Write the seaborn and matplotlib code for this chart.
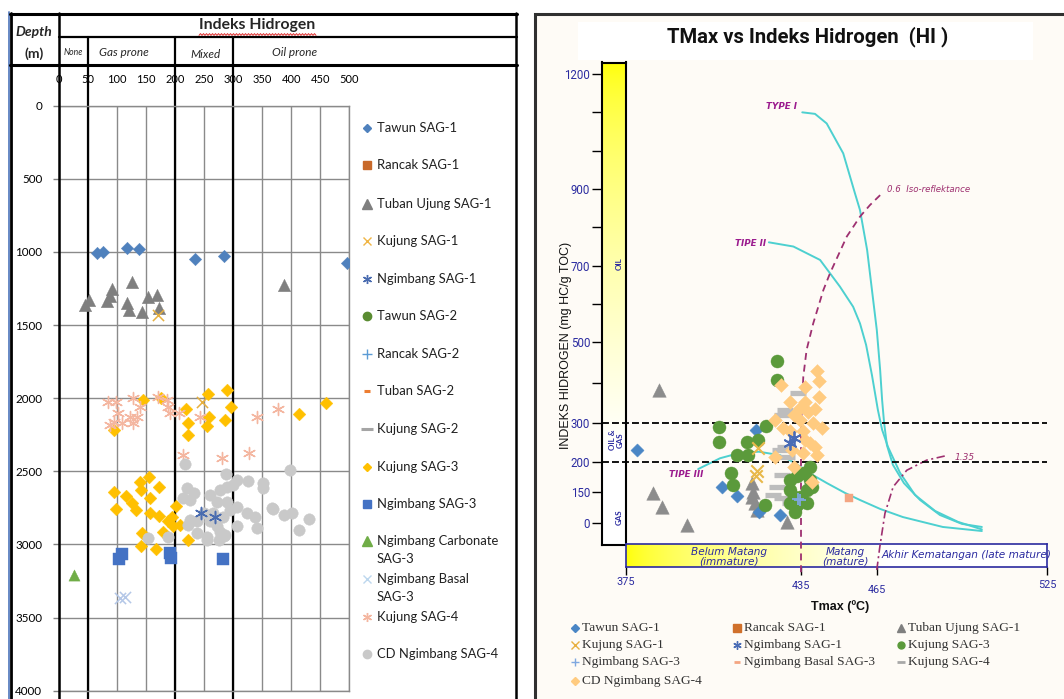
import numpy as np
import matplotlib
matplotlib.use("Agg")
import matplotlib.pyplot as plt
import seaborn as sns
from matplotlib.lines import Line2D
from matplotlib.patches import Rectangle
from matplotlib.markers import MarkerStyle

# ====================== DATA : left panel (Indeks Hidrogen vs Depth) ======================
HI_TICKS_L = [0, 50, 100, 150, 200, 250, 300, 350, 400, 450, 500]
DEPTH_TICKS = [0, 500, 1000, 1500, 2000, 2500, 3000, 3500, 4000]
ZONE_BOUNDS = [50, 200, 300]          # None | Gas prone | Mixed | Oil prone

L_TAWUN1_HI = [66, 75, 117, 138, 234, 284, 496]
L_TAWUN1_D = [1009, 1002, 970, 981, 1048, 1025, 1077]
L_TUBANUJ1_HI = [44, 52, 83, 87, 91, 117, 121, 126, 143, 153, 168, 172, 387]
L_TUBANUJ1_D = [1362, 1329, 1336, 1298, 1253, 1351, 1396, 1203, 1408, 1305, 1294, 1385, 1226]
L_KUJUNG1_HI = [171, 247]
L_KUJUNG1_D = [1431, 2023]
L_NGIMBANG1_HI = [245, 269]
L_NGIMBANG1_D = [2786, 2810]
L_KUJUNG3_HI = [145, 175, 218, 222, 223, 256, 259, 255, 286, 290, 296, 413, 460, 95,
                95, 99, 116, 125, 132, 140, 141, 155, 157, 172, 157, 172, 179, 143, 141, 167,
                188, 194, 197, 202, 209, 223]
L_KUJUNG3_D = [2012, 2000, 2073, 2167, 2251, 1973, 2126, 2189, 2151, 1945, 2057, 2109, 2034, 2217,
               2638, 2759, 2668, 2718, 2763, 2570, 2631, 2536, 2684, 2608, 2786, 2805, 2912, 2923,
               3010, 3030, 2837, 2809, 2877, 2736, 2866, 2969]
L_NGIMBANG3_HI = [104, 109, 191, 193, 283]
L_NGIMBANG3_D = [3100, 3064, 3060, 3094, 3100]
L_NGCARB3_HI = [25]
L_NGCARB3_D = [3212]
L_NGBASAL3_HI = [105, 113]
L_NGBASAL3_D = [3367, 3360]
L_KUJUNG4_HI = [85, 99, 128, 140, 171, 186, 188, 191, 206, 94, 108, 88, 128, 134, 243, 341, 378,
                214, 280, 328, 102, 122]
L_KUJUNG4_D = [2023, 2023, 2000, 2057, 1989, 2012, 2057, 2103, 2103, 2160, 2171, 2183, 2171, 2126,
               2126, 2126, 2075, 2388, 2410, 2376, 2103, 2126]
L_CDNG4_HI = [217, 287, 306, 326, 352, 351, 398, 220, 232, 214, 226, 260, 278, 289, 300, 272, 289,
              295, 306, 324, 338, 367, 387, 401, 430, 413, 341, 226, 223, 237, 255, 260, 272, 278,
              286, 249, 266, 283, 154, 188, 306, 275, 237, 255, 285, 368]
L_CDNG4_D = [2451, 2520, 2558, 2565, 2581, 2615, 2490, 2615, 2650, 2684, 2695, 2661, 2627, 2604,
             2593, 2707, 2707, 2763, 2741, 2786, 2809, 2752, 2798, 2786, 2825, 2900, 2889, 2832,
             2866, 2923, 2946, 2843, 2877, 2912, 2934, 2786, 2786, 2809, 2957, 2946, 2877, 2969,
             2843, 2969, 2940, 2759]

# ====================== DATA : right panel (Tmax vs HI) ======================
TMAX_TICKS = [375, 435, 465, 525]
HI_TICKS_R = [0, 150, 200, 300, 500, 700, 900, 1200]
HI_MINOR_R = [400, 600, 800, 1000, 1100]

R_TAWUN1_T = [379, 408, 413, 419.6, 420.6, 427.8]
R_TAWUN1_HI = [230, 159, 133, 283, 54, 38]
R_RANCAK1_T = [454]
R_RANCAK1_HI = [120]
R_TUBANUJ1_T = [386.4, 384.5, 387.5, 396, 418.1, 418.7, 418.1, 419.3, 419.8, 430.1]
R_TUBANUJ1_HI = [382, 145, 79, -10, 165, 151, 128, 96, 63, 5]
R_KUJUNG1_T = [419.8, 419.6, 420.4]
R_KUJUNG1_HI = [184, 176, 235]
R_NGIMBANG1_T = [432.6, 431.3]
R_NGIMBANG1_HI = [262, 249]
R_KUJUNG3_T = [426.9, 426.9, 407, 407, 416.6, 420.4, 423, 413, 417, 411, 411.8, 422.7, 431.3,
               433.6, 435.9, 438.6, 438.6, 431.3, 432.5, 434.8, 437.2, 431.3, 433.6, 437.2, 439.2, 433]
R_KUJUNG3_HI = [453, 406, 290, 252, 252, 257, 292, 217, 217, 181, 162, 87, 170, 176, 181, 192, 170,
                154, 128, 128, 154, 96, 87, 96, 159, 54]
R_NGIMBANG3_T = [434, 434.8]
R_NGIMBANG3_HI = [115, 110]
R_KUJUNG4_T = [434, 429.4, 428.4, 429.4, 427.8, 430.1, 428.4, 426.7, 425.5, 428.4, 432.4, 431.3, 433.5]
R_KUJUNG4_HI = [375, 333, 320, 239, 230, 213, 178, 159, 136, 120, 104, 96, 136]
R_CDNG4_T = [441.2, 442.2, 428, 436.6, 441.9, 436.6, 431.3, 440.4, 437.8, 432.6, 434.8, 426.1, 429,
             439.9, 443.1, 431.9, 436.6, 438.6, 440.4, 441.2, 435.9, 432.6, 439.2, 431.3, 435.9,
             434.8, 426.1]
R_CDNG4_HI = [427, 404, 394, 390, 364, 353, 351, 334, 328, 320, 308, 308, 288, 300, 288, 231, 257,
              248, 239, 217, 222, 192, 167, 280, 280, 337, 213]

# kerogen type curves and iso-reflectance lines (Tmax, HI)
TYPE1_T = [435.5, 440.5, 445.1, 451.6, 456.2, 458.2, 461, 462.9, 464.8, 466, 466.7, 467.4, 468.4,
           470.5, 474.4, 480.1, 487.1, 494.9, 501.9]
TYPE1_HI = [1100, 1096, 1071, 993, 889, 845, 741, 636, 531, 431, 357, 301, 243, 195, 165, 112, 38,
            -6, -21]
TYPE2_T = [424, 432.4, 442.5, 450.3, 455.5, 458.2, 460.6, 462.9, 465.2, 466.7, 468.8, 473, 478.3,
           485.4, 493.5, 501.9]
TYPE2_HI = [761, 750, 715, 645, 592, 548, 492, 418, 333, 283, 238, 182, 137, 58, 4, -33]
TYPE3_T = [399.8, 407.3, 414.1, 420.6, 427.8, 432.9, 438.5, 445.2, 452.3, 458.2, 466, 474, 488.1, 501.9]
TYPE3_HI = [188, 209, 223, 226, 217, 198, 181, 165, 147, 112, 68, 28, -21, -41]
RO06_T = [466, 462.1, 458.2, 453, 446.4, 443.8, 439.8, 437.2, 435.9, 435.3, 435, 435]
RO06_HI = [884, 858, 828, 776, 680, 636, 548, 480, 414, 333, 283, -250]
RO135_T = [464.8, 465.9, 467.7, 470.6, 475.4, 482.4, 488.9]
RO135_HI = [-233, -118, 46, 159, 186, 204, 215]

# ====================== STYLE ======================
sns.set_theme(style="white")
plt.rcParams["font.family"] = ["Lato", "DejaVu Sans"]
plt.rcParams["lines.scale_dashes"] = False

W, H = 1064, 699
fig = plt.figure(figsize=(W / 100, H / 100), dpi=100)
fig.patch.set_facecolor("white")


def rect(x0, y0, x1, y1):
    return [x0 / W, 1 - y1 / H, (x1 - x0) / W, (y1 - y0) / H]


def fx(x):
    return x / W


def fy(y):
    return 1 - y / H


def fline(xs, ys, **kw):
    fig.add_artist(Line2D([fx(v) for v in xs], [fy(v) for v in ys],
                          transform=fig.transFigure, **kw))


def ftext(x, y, s, **kw):
    fig.text(fx(x), fy(y), s, **kw)


def fmarker(x, y, marker, color, ms, mew=1.0):
    filled = MarkerStyle(marker).is_filled()
    fig.add_artist(Line2D([fx(x)], [fy(y)], transform=fig.transFigure, ls="none",
                          marker=marker, ms=ms, color=color, mew=mew,
                          mec=color, mfc=color if filled else "none"))


def scat(ax, x, y, marker, color, s, lw=None, z=3):
    if len(x) == 0:
        return
    kw = dict(marker=marker, s=s, zorder=z)
    if MarkerStyle(marker).is_filled():
        kw["edgecolor"] = color
        kw["linewidth"] = 0.3 if lw is None else lw
    else:
        kw["linewidth"] = 1.2 if lw is None else lw
    sns.scatterplot(x=x, y=y, color=color, ax=ax, legend=False, **kw)


ASTER = (6, 2, 0)

# ====================== LEFT PANEL ======================
axL = fig.add_axes(rect(59, 105.7, 349.3, 690.7))
axL.set_facecolor("white")
scat(axL, L_TAWUN1_HI, L_TAWUN1_D, "D", "#4F81BD", 40)
scat(axL, L_TUBANUJ1_HI, L_TUBANUJ1_D, "^", "#7F7F7F", 80)
scat(axL, L_KUJUNG1_HI, L_KUJUNG1_D, "x", "#E6B040", 65, 1.1)
scat(axL, L_KUJUNG3_HI, L_KUJUNG3_D, "D", "#FFC000", 42)
scat(axL, L_NGIMBANG3_HI, L_NGIMBANG3_D, "s", "#4472C4", 85)
scat(axL, L_NGCARB3_HI, L_NGCARB3_D, "^", "#70AD47", 65)
scat(axL, L_NGBASAL3_HI, L_NGBASAL3_D, "x", "#B4C7E7", 65, 1.1)
scat(axL, L_KUJUNG4_HI, L_KUJUNG4_D, ASTER, "#F4B6A0", 75, 1.0)
scat(axL, L_CDNG4_HI, L_CDNG4_D, "o", "#C9C9C9", 68)
scat(axL, L_NGIMBANG1_HI, L_NGIMBANG1_D, ASTER, "#4A6CB0", 75, 1.1, z=5)

axL.set_xlim(0, 500)
axL.set_ylim(4000, 0)
axL.set_xticks(HI_TICKS_L)
axL.set_yticks(DEPTH_TICKS)
axL.set_xlabel("")
axL.set_ylabel("")
axL.xaxis.tick_top()
axL.tick_params(axis="x", top=True, bottom=False, length=0, pad=15, labelsize=8,
                labelcolor="black")
axL.tick_params(axis="y", left=True, length=4, width=1, color="#808080", pad=8,
                labelsize=8.4, labelcolor="black")
axL.grid(True, color="#8a8a8a", lw=1)
axL.set_axisbelow(True)
for s in axL.spines.values():
    s.set_color("#8a8a8a")
    s.set_linewidth(1)
axL.spines["left"].set_visible(False)
for v in ZONE_BOUNDS:
    axL.axvline(v, ymin=-0.02, ymax=1 + (105.7 - 37) / 585, color="black", lw=1.6,
                clip_on=False, zorder=2)

# frame of the left table
fline([8.5, 8.5], [12, 699], color="#5B7FBF", lw=1.3)
fline([10.5, 10.5], [13, 699], color="black", lw=2)
fline([59, 59], [13, 699], color="black", lw=1.8)
fline([516, 516], [13, 699], color="black", lw=1.8)
fline([10, 517], [14, 14], color="black", lw=2.2)
fline([59, 517], [37, 37], color="black", lw=1.6)
fline([10, 517], [65, 65], color="black", lw=2.2)

ftext(257, 25, "Indeks Hidrogen", ha="center", va="center", fontsize=11.3, fontweight="bold")
wx = np.arange(199, 316.5, 1.5)
wy = 34.5 + 0.9 * np.where(np.arange(len(wx)) % 2 == 0, 1, -1)
fline(wx, wy, color="#E03030", lw=0.7)
ftext(34, 32, "Depth", ha="center", va="center", fontsize=10, fontweight="bold", style="italic")
ftext(34, 54, "(m)", ha="center", va="center", fontsize=10, fontweight="bold")
ftext(73.5, 52.5, "None", ha="center", va="center", fontsize=6.2, style="italic")
ftext(124, 53, "Gas prone", ha="center", va="center", fontsize=8.5, style="italic")
ftext(206, 55, "Mixed", ha="center", va="center", fontsize=8.5, style="italic")
ftext(295, 52.5, "Oil prone", ha="center", va="center", fontsize=8.5, style="italic")

# left legend
LEG_L = [
    ("Tawun SAG-1", None, 128, "D", "#4F81BD", 4.5, 1),
    ("Rancak SAG-1", None, 165, "s", "#C8692A", 6, 1),
    ("Tuban Ujung SAG-1", None, 204, "^", "#7F7F7F", 6.5, 1),
    ("Kujung SAG-1", None, 241, "x", "#F0B545", 6, 1),
    ("Ngimbang SAG-1", None, 279, ASTER, "#4A6CB0", 6.5, 1),
    ("Tawun SAG-2", None, 316, "o", "#5A8C32", 6, 1),
    ("Rancak SAG-2", None, 354, "+", "#5B9BD5", 7, 1),
    ("Tuban SAG-2", None, 391, "_", "#ED7D31", 5, 2.2),
    ("Kujung SAG-2", None, 429, "_", "#A5A5A5", 8, 2.2),
    ("Kujung SAG-3", None, 467, "D", "#FFC000", 4.5, 1),
    ("Ngimbang SAG-3", None, 504, "s", "#4472C4", 6, 1),
    ("Ngimbang Carbonate", "SAG-3", 541, "^", "#70AD47", 6.5, 1),
    ("Ngimbang Basal", "SAG-3", 579, "x", "#BDD7EE", 6, 1),
    ("Kujung SAG-4", None, 617, ASTER, "#F4B6A0", 6.5, 1),
    ("CD Ngimbang SAG-4", None, 654, "o", "#C9C9C9", 6, 1),
]
for lab, lab2, y, m, c, ms, mew in LEG_L:
    fmarker(367, y, m, c, ms, mew)
    ftext(377, y, lab, ha="left", va="center", fontsize=9.4, color="#202020")
    if lab2:
        ftext(377, y + 18, lab2, ha="left", va="center", fontsize=9.4, color="#202020")

# ====================== RIGHT PANEL ======================
fig.add_artist(Rectangle((fx(535), fy(720)), fx(600), (720 - 14) / H, transform=fig.transFigure,
                         facecolor="#FEFBF6", edgecolor="#303030", lw=2.2, zorder=-2))
fig.add_artist(Rectangle((fx(578), fy(60)), fx(1033 - 578), (60 - 22) / H,
                         transform=fig.transFigure, facecolor="white", edgecolor="none", zorder=-1))
ftext(808, 37, "TMax vs Indeks Hidrogen  (HI )", ha="center", va="center", fontsize=14.6,
      fontweight="bold", family=["Roboto", "DejaVu Sans"], color="#111111")

# scale break points taken from the printed tick positions
T_BREAKS = [375, 435, 465, 525]
T_PIX = [625.7, 801.0, 877.3, 1047.3]
HI_BREAKS = [-260, 0, 150, 200, 300, 500, 700, 900, 1200, 1230]
HI_PIX = [575.4, 522.7, 492.3, 461.7, 423.3, 341.7, 265.7, 189.0, 74.0, 62.5]


def t_fwd(v):
    return np.interp(v, T_BREAKS, T_PIX)


def t_inv(p):
    return np.interp(p, T_PIX, T_BREAKS)


def h_fwd(v):
    return -np.interp(v, HI_BREAKS, HI_PIX)


def h_inv(p):
    return np.interp(p, [-q for q in HI_PIX], HI_BREAKS)


NAVY = "#2B2BA0"
PURP = "#9E3070"
CYAN = "#4DD0D0"

# vertical OIL/GAS bar
axB = fig.add_axes(rect(602, 62.5, 625.7, 545))
nb = 300
tb = np.linspace(0, 1, nb)
wb = np.clip(tb / 0.8, 0, 1) ** 0.6
gradB = np.stack([np.ones(nb), np.ones(nb), wb], axis=1)[:, None, :]
axB.imshow(gradB, aspect="auto", extent=(0, 1, 0, 1), transform=axB.transAxes, zorder=0)
axB.set_yscale("function", functions=(h_fwd, h_inv))
axB.set_xlim(0, 1)
axB.set_ylim(-110, 1230)
axB.set_xticks([])
axB.set_yticks(HI_TICKS_R)
axB.set_yticklabels([str(v) for v in HI_TICKS_R])
axB.set_yticks(HI_MINOR_R, minor=True)
axB.tick_params(axis="y", which="both", left=True, length=7, width=1, color="black",
                direction="out", pad=1.5, labelsize=8.3, labelcolor=NAVY)
for lab in axB.get_yticklabels():
    lab.set_family(["Roboto", "DejaVu Sans"])
for s in axB.spines.values():
    s.set_color("black")
    s.set_linewidth(1.5)
axB.text(0.72, 705, "OIL", transform=axB.get_yaxis_transform(), rotation=90, ha="center",
         va="center", fontsize=5.8, fontweight="bold", color=NAVY)
axB.text(0.6, 256, "OIL &\nGAS", transform=axB.get_yaxis_transform(), rotation=90, ha="center",
         va="center", fontsize=5.8, fontweight="bold", color=NAVY, linespacing=1.1)
axB.text(0.72, 28, "GAS", transform=axB.get_yaxis_transform(), rotation=90, ha="center",
         va="center", fontsize=5.8, fontweight="bold", color=NAVY)

# horizontal maturity strip
axS = fig.add_axes(rect(625.7, 543.5, 1047.3, 567.3))
ns = 400
ts = np.linspace(0, 1, ns)
ws = np.clip(ts / 0.62, 0, 1) ** 0.6
gradS = np.stack([np.ones(ns), np.ones(ns), ws], axis=1)[None, :, :]
axS.imshow(gradS, aspect="auto", extent=(0, 1, 0, 1), transform=axS.transAxes, zorder=0)
axS.set_xscale("function", functions=(t_fwd, t_inv))
axS.set_xlim(375, 525)
axS.set_ylim(0, 1)
axS.set_yticks([])
axS.set_xticks(TMAX_TICKS)
axS.set_xticklabels([])
axS.tick_params(axis="x", bottom=True, length=6, width=1, color="black", direction="out")
for s in axS.spines.values():
    s.set_color(NAVY)
    s.set_linewidth(1.2)
TICK_LABEL_Y = [-0.6, -0.77, -0.95, -0.74]
for v, yy in zip(TMAX_TICKS, TICK_LABEL_Y):
    axS.text(v, yy, str(v), transform=axS.get_xaxis_transform(), ha="center", va="center",
             fontsize=7.8, color=NAVY, family=["Roboto", "DejaVu Sans"], clip_on=False)
axS.text(410.4, 0.45, "Belum Matang\n(immature)", transform=axS.get_xaxis_transform(),
         ha="center", va="center", fontsize=7.6, style="italic", color=NAVY, linespacing=1.0,
         family=["DejaVu Sans"])
axS.text(452.5, 0.45, "Matang\n(mature)", transform=axS.get_xaxis_transform(),
         ha="center", va="center", fontsize=7.6, style="italic", color=NAVY, linespacing=1.0,
         family=["DejaVu Sans"])
axS.text(466.6, 0.52, "Akhir Kematangan (late mature)", transform=axS.get_xaxis_transform(),
         ha="left", va="center", fontsize=7.6, style="italic", color=NAVY,
         family=["DejaVu Sans"], clip_on=False)

# main scatter axes
axM = fig.add_axes(rect(625.7, 62.5, 1047.3, 545))
axM.set_zorder(3)
axM.set_xscale("function", functions=(t_fwd, t_inv))
axM.set_yscale("function", functions=(h_fwd, h_inv))

for xs, ys in [(TYPE1_T, TYPE1_HI), (TYPE2_T, TYPE2_HI), (TYPE3_T, TYPE3_HI)]:
    sns.lineplot(x=xs, y=ys, sort=False, estimator=None, color=CYAN, lw=1.4, ax=axM, zorder=2)
sns.lineplot(x=RO06_T, y=RO06_HI, sort=False, estimator=None, color=PURP, lw=1.3, ax=axM,
             zorder=2)
axM.lines[-1].set_dashes((5, 3.5))
axM.lines[-1].set_clip_on(False)
sns.lineplot(x=RO135_T, y=RO135_HI, sort=False, estimator=None, color=PURP, lw=1.2, ax=axM,
             zorder=2)
axM.lines[-1].set_dashes((6, 2.5, 1.5, 2.5))
axM.lines[-1].set_clip_on(False)

for lvl in (300, 200):
    axM.axhline(lvl, xmin=-24 / 421.6, xmax=1.0, color="black", lw=1.3, dashes=(5, 2.2),
                clip_on=False, zorder=2.5)

scat(axM, R_TUBANUJ1_T, R_TUBANUJ1_HI, "^", "#8C8C8C", 95)
scat(axM, R_TAWUN1_T, R_TAWUN1_HI, "D", "#4A86C5", 45)
scat(axM, R_RANCAK1_T, R_RANCAK1_HI, "s", "#F4A582", 30)
scat(axM, R_KUJUNG4_T, R_KUJUNG4_HI, "_", "#BDBDBD", 120, 3.8)
scat(axM, R_KUJUNG3_T, R_KUJUNG3_HI, "o", "#5B9A3B", 88)
scat(axM, R_CDNG4_T, R_CDNG4_HI, "D", "#FFCB80", 50)
scat(axM, R_KUJUNG1_T, R_KUJUNG1_HI, "x", "#E8B84A", 80, 1.5, z=5)
scat(axM, R_NGIMBANG1_T, R_NGIMBANG1_HI, ASTER, "#4A6CB5", 85, 1.3, z=5)
scat(axM, R_NGIMBANG3_T, R_NGIMBANG3_HI, "+", "#7FA8E0", 85, 1.3, z=5)

axM.text(428.3, 1114, "TYPE I", ha="center", va="center", fontsize=6.3, fontweight="bold",
         style="italic", color="#9B1B8E", family=["DejaVu Sans"])
axM.text(417.9, 758, "TIPE II", ha="center", va="center", fontsize=6.3, fontweight="bold",
         style="italic", color="#9B1B8E", family=["DejaVu Sans"])
axM.text(395.6, 179, "TIPE III", ha="center", va="center", fontsize=6.3, fontweight="bold",
         style="italic", color="#9B1B8E", family=["DejaVu Sans"])
axM.text(468.4, 900, "0.6  Iso-reflektance", ha="left", va="center", fontsize=6.2,
         style="italic", color=PURP, family=["DejaVu Sans"])
axM.text(492.4, 212, "1.35", ha="left", va="center", fontsize=6.5, style="italic", color=PURP,
         family=["DejaVu Sans"])

axM.set_xlim(375, 525)
axM.set_ylim(-110, 1230)
axM.set_xlabel("")
axM.set_ylabel("")
axM.set_axis_off()

ftext(566, 345, "INDEKS HIDROGEN (mg HC/g TOC)", rotation=90, ha="center", va="center",
      fontsize=9, family=["Liberation Sans", "DejaVu Sans"], color="#111111")
ftext(840, 607, "Tmax (ºC)", ha="center", va="center", fontsize=9, fontweight="bold",
      family=["Liberation Sans", "DejaVu Sans"], color="#111111")

# right legend
LEG_R = [
    ("Tawun SAG-1", 575, 628, "D", "#4A86C5", 4, 1),
    ("Rancak SAG-1", 737, 628, "s", "#D0702B", 5.5, 1),
    ("Tuban Ujung SAG-1", 901, 628, "^", "#7F7F7F", 5.5, 1),
    ("Kujung SAG-1", 575, 645, "x", "#E8B040", 6, 1),
    ("Ngimbang SAG-1", 737, 645, ASTER, "#4A6CB5", 6, 1),
    ("Kujung SAG-3", 901, 645, "o", "#5B9A3B", 5, 1),
    ("Ngimbang SAG-3", 575, 662, "+", "#7FA8E0", 6, 1),
    ("Ngimbang Basal SAG-3", 737, 662, "_", "#F4A582", 5, 2),
    ("Kujung SAG-4", 901, 662, "_", "#A8A8A8", 6, 2),
    ("CD Ngimbang SAG-4", 575, 681, "D", "#FFCB80", 4, 1),
]
for lab, x, y, m, c, ms, mew in LEG_R:
    fmarker(x, y, m, c, ms, mew)
    ftext(x + 7.5, y, lab, ha="left", va="center", fontsize=9.6, color="#333333",
          family=["Liberation Serif", "DejaVu Serif"])

fig.savefig("out.png", dpi=100)
